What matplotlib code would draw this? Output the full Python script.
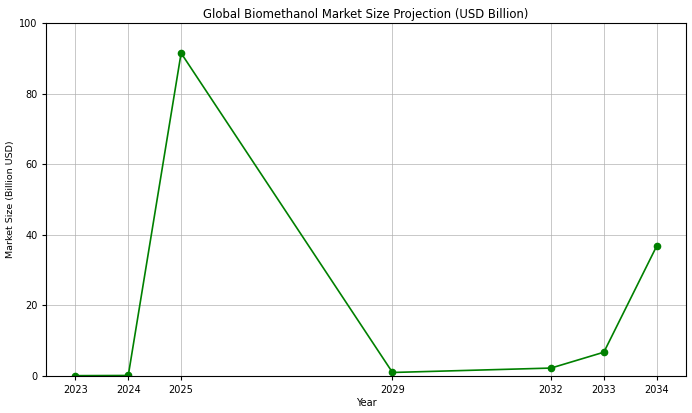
import matplotlib
matplotlib.use("Agg")
import matplotlib.pyplot as plt

years = [2023, 2024, 2025, 2029, 2032, 2033, 2034]
market_size = [0.05, 0.1, 91.5, 0.95, 2.2, 6.7, 36.8]

fig, ax = plt.subplots(figsize=(6.92, 4.13), dpi=100)
ax.plot(years, market_size, marker='o', color='green', markersize=4.5, linewidth=1.2)

ax.set_title('Global Biomethanol Market Size Projection (USD Billion)', fontsize=8.4, pad=4)
ax.set_xlabel('Year', fontsize=7, labelpad=2)
ax.set_ylabel('Market Size (Billion USD)', fontsize=6.8, labelpad=3)
ax.set_xticks(years)
ax.tick_params(labelsize=7, length=3)
ax.set_ylim(0, 100)
ax.grid(True, color='#b0b0b0', alpha=0.7, linewidth=0.7)

fig.subplots_adjust(left=0.067, right=0.991, top=0.944, bottom=0.09)
fig.savefig('out.png', dpi=100)
